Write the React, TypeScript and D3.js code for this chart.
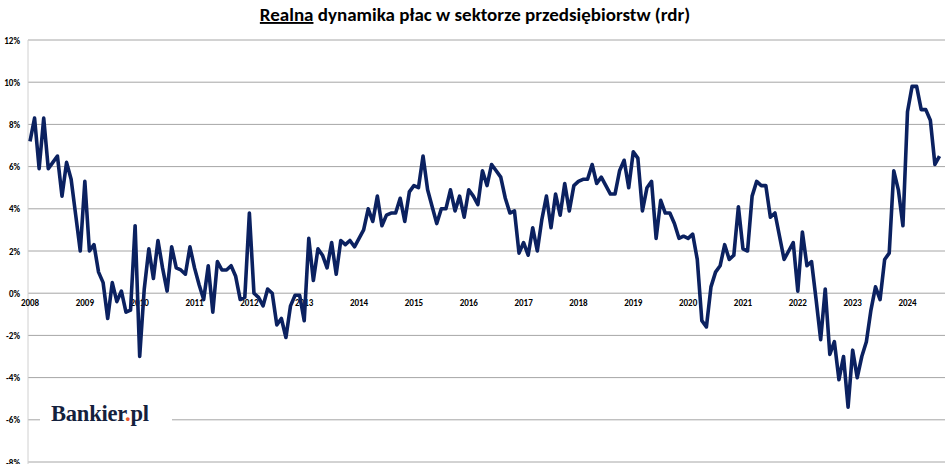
import React from "react";
import * as d3 from "d3";

const startYear = 2008;
const values: number[] = [
  7.2, 8.3, 5.9, 8.3, 5.9, 6.2, 6.5, 4.6, 6.2, 5.4, 3.7, 2.0,
  5.3, 2.0, 2.3, 1.0, 0.5, -1.2, 0.5, -0.4, 0.1, -0.9, -0.8, 3.2,
  -3.0, 0.2, 2.1, 0.7, 2.5, 1.2, 0.1, 2.2, 1.2, 1.1, 0.9, 2.2,
  1.2, 0.4, -0.3, 1.3, -0.9, 1.5, 1.1, 1.1, 1.3, 0.8, -0.3, -0.2,
  3.8, 0.0, -0.2, -0.6, 0.2, 0.0, -1.5, -1.2, -2.1, -0.6, -0.1, -0.1,
  -1.3, 2.6, 0.6, 2.1, 1.8, 1.2, 2.4, 0.9, 2.5, 2.3, 2.5, 2.2,
  2.6, 3.0, 4.0, 3.4, 4.6, 3.2, 3.7, 3.8, 3.8, 4.5, 3.4, 4.8,
  5.1, 5.0, 6.5, 4.9, 4.1, 3.3, 4.0, 4.0, 4.9, 3.9, 4.6, 3.6,
  4.9, 4.6, 4.2, 5.8, 5.1, 6.1, 5.8, 5.5, 4.5, 3.8, 3.9, 1.9,
  2.4, 1.8, 3.1, 2.0, 3.5, 4.6, 3.1, 4.7, 3.7, 5.2, 3.9, 5.1,
  5.3, 5.4, 5.4, 6.1, 5.2, 5.5, 5.1, 4.7, 4.7, 5.8, 6.3, 5.0,
  6.7, 6.4, 3.9, 5.0, 5.3, 2.6, 4.4, 3.8, 3.8, 3.3, 2.6, 2.7,
  2.6, 2.8, 1.6, -1.3, -1.6, 0.3, 1.0, 1.3, 2.3, 1.6, 1.8, 4.1,
  2.1, 2.0, 4.6, 5.3, 5.1, 5.1, 3.6, 3.8, 2.7, 1.6, 2.0, 2.4,
  0.1, 2.9, 1.3, 1.5, -0.3, -2.2, 0.2, -2.9, -2.3, -4.1, -3.0, -5.4,
  -2.7, -4.0, -3.0, -2.3, -0.8, 0.3, -0.3, 1.6, 1.9, 5.8, 4.9, 3.2,
  8.6, 9.8, 9.8, 8.7, 8.7, 8.2, 6.1, 6.5,
];
const yearLabels = ["2008","2009","2010","2011","2012","2013","2014","2015","2016","2017","2018","2019","2020","2021","2022","2023","2024"];
const yTicks = [12, 10, 8, 6, 4, 2, 0, -2, -4, -6, -8];

export default function App() {
  const W = 948, H = 464;
  const x = d3.scaleLinear().domain([0, 192]).range([30, 907.5]);
  const y = d3.scaleLinear().domain([-8, 12]).range([462, 40]);
  const line = d3.line<number>().x((_, i) => x(i)).y((d) => y(d));
  const font = "Calibri, Carlito, 'Liberation Sans', Arial, sans-serif";
  return (
    <svg width={W} height={H} style={{ position: "absolute", left: 0, top: 0, background: "#fff" }}>
      {yTicks.map((t) => (
        <g key={t}>
          <line x1={28} x2={945} y1={y(t)} y2={y(t)} stroke="#a6a6a6" strokeWidth={1} />
          <text x={20} y={y(t) + 3.5} textAnchor="end" fontSize={9} fontWeight="bold" fontFamily={font} fill="#000">{t}%</text>
        </g>
      ))}
      <line x1={28} x2={28} y1={40} y2={464} stroke="#d0d0d0" strokeWidth={1} />
      {yearLabels.map((l, i) => (
        <text key={l} x={x(i * 12)} y={y(0) + 13} textAnchor="middle" fontSize={9} fontWeight="bold" fontFamily={font} fill="#000">{l}</text>
      ))}
      <rect x={40} y={395} width={132} height={40} fill="#fff" />
      <text x={51} y={421} fontSize={22.5} fontFamily="'Liberation Serif', 'DejaVu Serif', serif" fontWeight="bold" fill="#14213d" letterSpacing={-0.2}>
        Bankier<tspan fill="#e8542a">.</tspan>pl
      </text>
      <path d={line(values) || ""} fill="none" stroke="#0b2160" strokeWidth={3.6} strokeLinejoin="round" />
      <text x={475} y={21} textAnchor="middle" fontSize={19} fontWeight="bold" fontFamily={font} fill="#000">
        <tspan textDecoration="underline">Realna</tspan> dynamika płac w sektorze przedsiębiorstw (rdr)
      </text>
    </svg>
  );
}
